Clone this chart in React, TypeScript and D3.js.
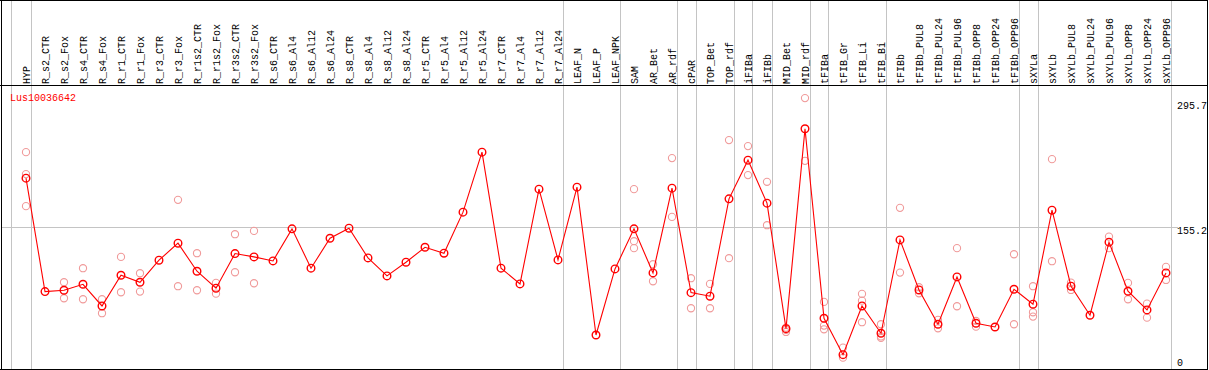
import React from "react";
import * as d3 from "d3";

const categories = [
  "HYP", "R_s2_CTR", "R_s2_Fox", "R_s4_CTR", "R_s4_Fox", "R_r1_CTR", "R_r1_Fox", "R_r3_CTR", "R_r3_Fox",
  "R_r1s2_CTR", "R_r1s2_Fox", "R_r3s2_CTR", "R_r3s2_Fox", "R_s6_CTR", "R_s6_Al4", "R_s6_Al12", "R_s6_Al24",
  "R_s8_CTR", "R_s8_Al4", "R_s8_Al12", "R_s8_Al24", "R_r5_CTR", "R_r5_Al4", "R_r5_Al12", "R_r5_Al24",
  "R_r7_CTR", "R_r7_Al4", "R_r7_Al12", "R_r7_Al24", "LEAF_N", "LEAF_P", "LEAF_NPK", "SAM", "AR_Bet", "AR_rdf",
  "cPAR", "TOP_Bet", "TOP_rdf", "iFIBa", "iFIBb", "MID_Bet", "MID_rdf", "tFIBa", "tFIB_Gr", "tFIB_Li", "tFIB_Bi",
  "tFIBb", "tFIBb_PUL8", "tFIBb_PUL24", "tFIBb_PUL96", "tFIBb_OPP8", "tFIBb_OPP24", "tFIBb_OPP96",
  "sXYLa", "sXYLb", "sXYLb_PUL8", "sXYLb_PUL24", "sXYLb_PUL96", "sXYLb_OPP8", "sXYLb_OPP24", "sXYLb_OPP96",
];

const means = [
  208.8, 85.3, 86.8, 93.3, 69.7, 103.1, 95.5, 119.5, 138.0,
  107.5, 89.0, 126.7, 123.1, 118.7, 153.6, 110.8, 143.4,
  154.3, 122.0, 102.4, 117.3, 133.6, 127.1, 171.8, 237.1,
  110.8, 93.7, 196.8, 119.8, 199.0, 38.1, 110.0, 153.6, 105.7, 197.9,
  84.2, 80.3, 186.3, 228.4, 181.6, 45.0, 262.5, 56.3, 16.7, 69.7, 40.0,
  141.6, 87.1, 49.8, 101.3, 50.9, 46.8, 87.9,
  71.6, 173.9, 91.2, 59.6, 139.1, 85.7, 65.4, 105.7,
];

const replicates: number[][] = [
  [237.1, 213.2, 178.3], [], [95.5, 78.1], [110.8, 77.0], [77.0, 61.8], [123.1, 84.6], [105.3, 85.3], [], [185.2, 91.2],
  [127.1, 86.8], [94.8, 83.1], [147.8, 106.4], [151.4, 94.4], [], [], [], [],
  [], [], [], [], [], [], [], [],
  [], [], [], [], [], [], [], [196.8, 140.2, 132.6], [115.1, 96.6], [230.6, 166.6],
  [99.9, 67.2], [93.7, 67.2], [250.2, 121.7], [243.7, 212.1], [204.8, 157.6], [46.1, 43.6, 41.4], [295.9, 227.6],
  [74.1, 48.3, 44.3], [24.3, 13.4], [82.8, 75.5, 52.0], [49.8, 36.5, 34.9],
  [176.5, 106.0], [90.1, 83.5], [54.5, 45.4], [132.6, 69.4], [53.4, 47.2], [], [126.0, 49.8],
  [91.2, 62.8, 58.1], [229.5, 118.4], [95.1, 87.1], [], [145.2, 132.6], [94.8, 77.0], [72.2, 57.0], [112.2, 98.0],
];

// group separators drawn after these column indices
const groupEnds = [-1, 0, 28, 31, 34, 35, 37, 38, 39, 41, 42, 45, 52, 53, 60];

const tickValues = [0, 155.2, 295.7];
const gridValues = [155.2];
const geneName = "Lus10036642";

const W = 1209;
const H = 370;
const FONT = "'Liberation Mono', 'DejaVu Sans Mono', monospace";

export default function App() {
  const x = d3.scaleLinear().domain([0, categories.length - 1]).range([26, 1166]);
  const y = d3.scaleLinear().domain([0, 295.7]).range([370, 98.3]);

  const line = d3
    .line<number>()
    .x((_, i) => x(i))
    .y((d) => y(d));

  const red = "#ff0000";
  const pink = "#f09a9a";
  const grid = "#c4c4c4";

  return (
    <svg
      width={W}
      height={H}
      style={{ position: "absolute", left: 0, top: 0, background: "#fff" }}
      fontFamily={FONT}
    >
      <rect x={0} y={0} width={W} height={H} fill="#fff" />
      {groupEnds.map((g) => {
        const xx = Math.round(x(g) + 4.5) + 0.5;
        return <line key={"v" + g} x1={xx} x2={xx} y1={0} y2={369} stroke={grid} strokeWidth={1} />;
      })}
      {gridValues.map((v) => {
        const yy = Math.round(y(v)) + 0.5;
        return <line key={"h" + v} x1={2} x2={1178} y1={yy} y2={yy} stroke={grid} strokeWidth={1} />;
      })}
      <line x1={0} x2={1208} y1={0.5} y2={0.5} stroke="#000" />
      <line x1={0} x2={1208} y1={85.5} y2={85.5} stroke="#000" />
      <line x1={0} x2={1208} y1={369.5} y2={369.5} stroke="#000" />
      <line x1={1.5} x2={1.5} y1={0} y2={370} stroke="#000" />
      <line x1={1207.5} x2={1207.5} y1={0} y2={370} stroke="#000" />

      {categories.map((c, i) => (
        <text
          key={"c" + c}
          transform={`translate(${x(i) + 3.5},84) rotate(-90)`}
          fontSize={10}
          fill="#000"
        >
          {c}
        </text>
      ))}

      {tickValues.map((v) => (
        <text
          key={"t" + v}
          x={1177}
          y={Math.max(109, Math.min(365.5, y(v) + 7))}
          fontSize={10}
          fill="#000"
        >
          {v === 0 ? "0" : v.toFixed(1)}
        </text>
      ))}

      <text x={10} y={100.5} fontSize={10} fill={red}>
        {geneName}
      </text>

      {replicates.map((reps, i) =>
        reps.map((v, j) => (
          <circle
            key={`r${i}-${j}`}
            cx={x(i)}
            cy={y(v)}
            r={3.6}
            fill="none"
            stroke={pink}
            strokeWidth={1.1}
          />
        ))
      )}

      <path d={line(means) || ""} fill="none" stroke={red} strokeWidth={1.1} />
      {means.map((v, i) => (
        <circle key={"m" + i} cx={x(i)} cy={y(v)} r={3.8} fill="none" stroke={red} strokeWidth={1.4} />
      ))}
    </svg>
  );
}
